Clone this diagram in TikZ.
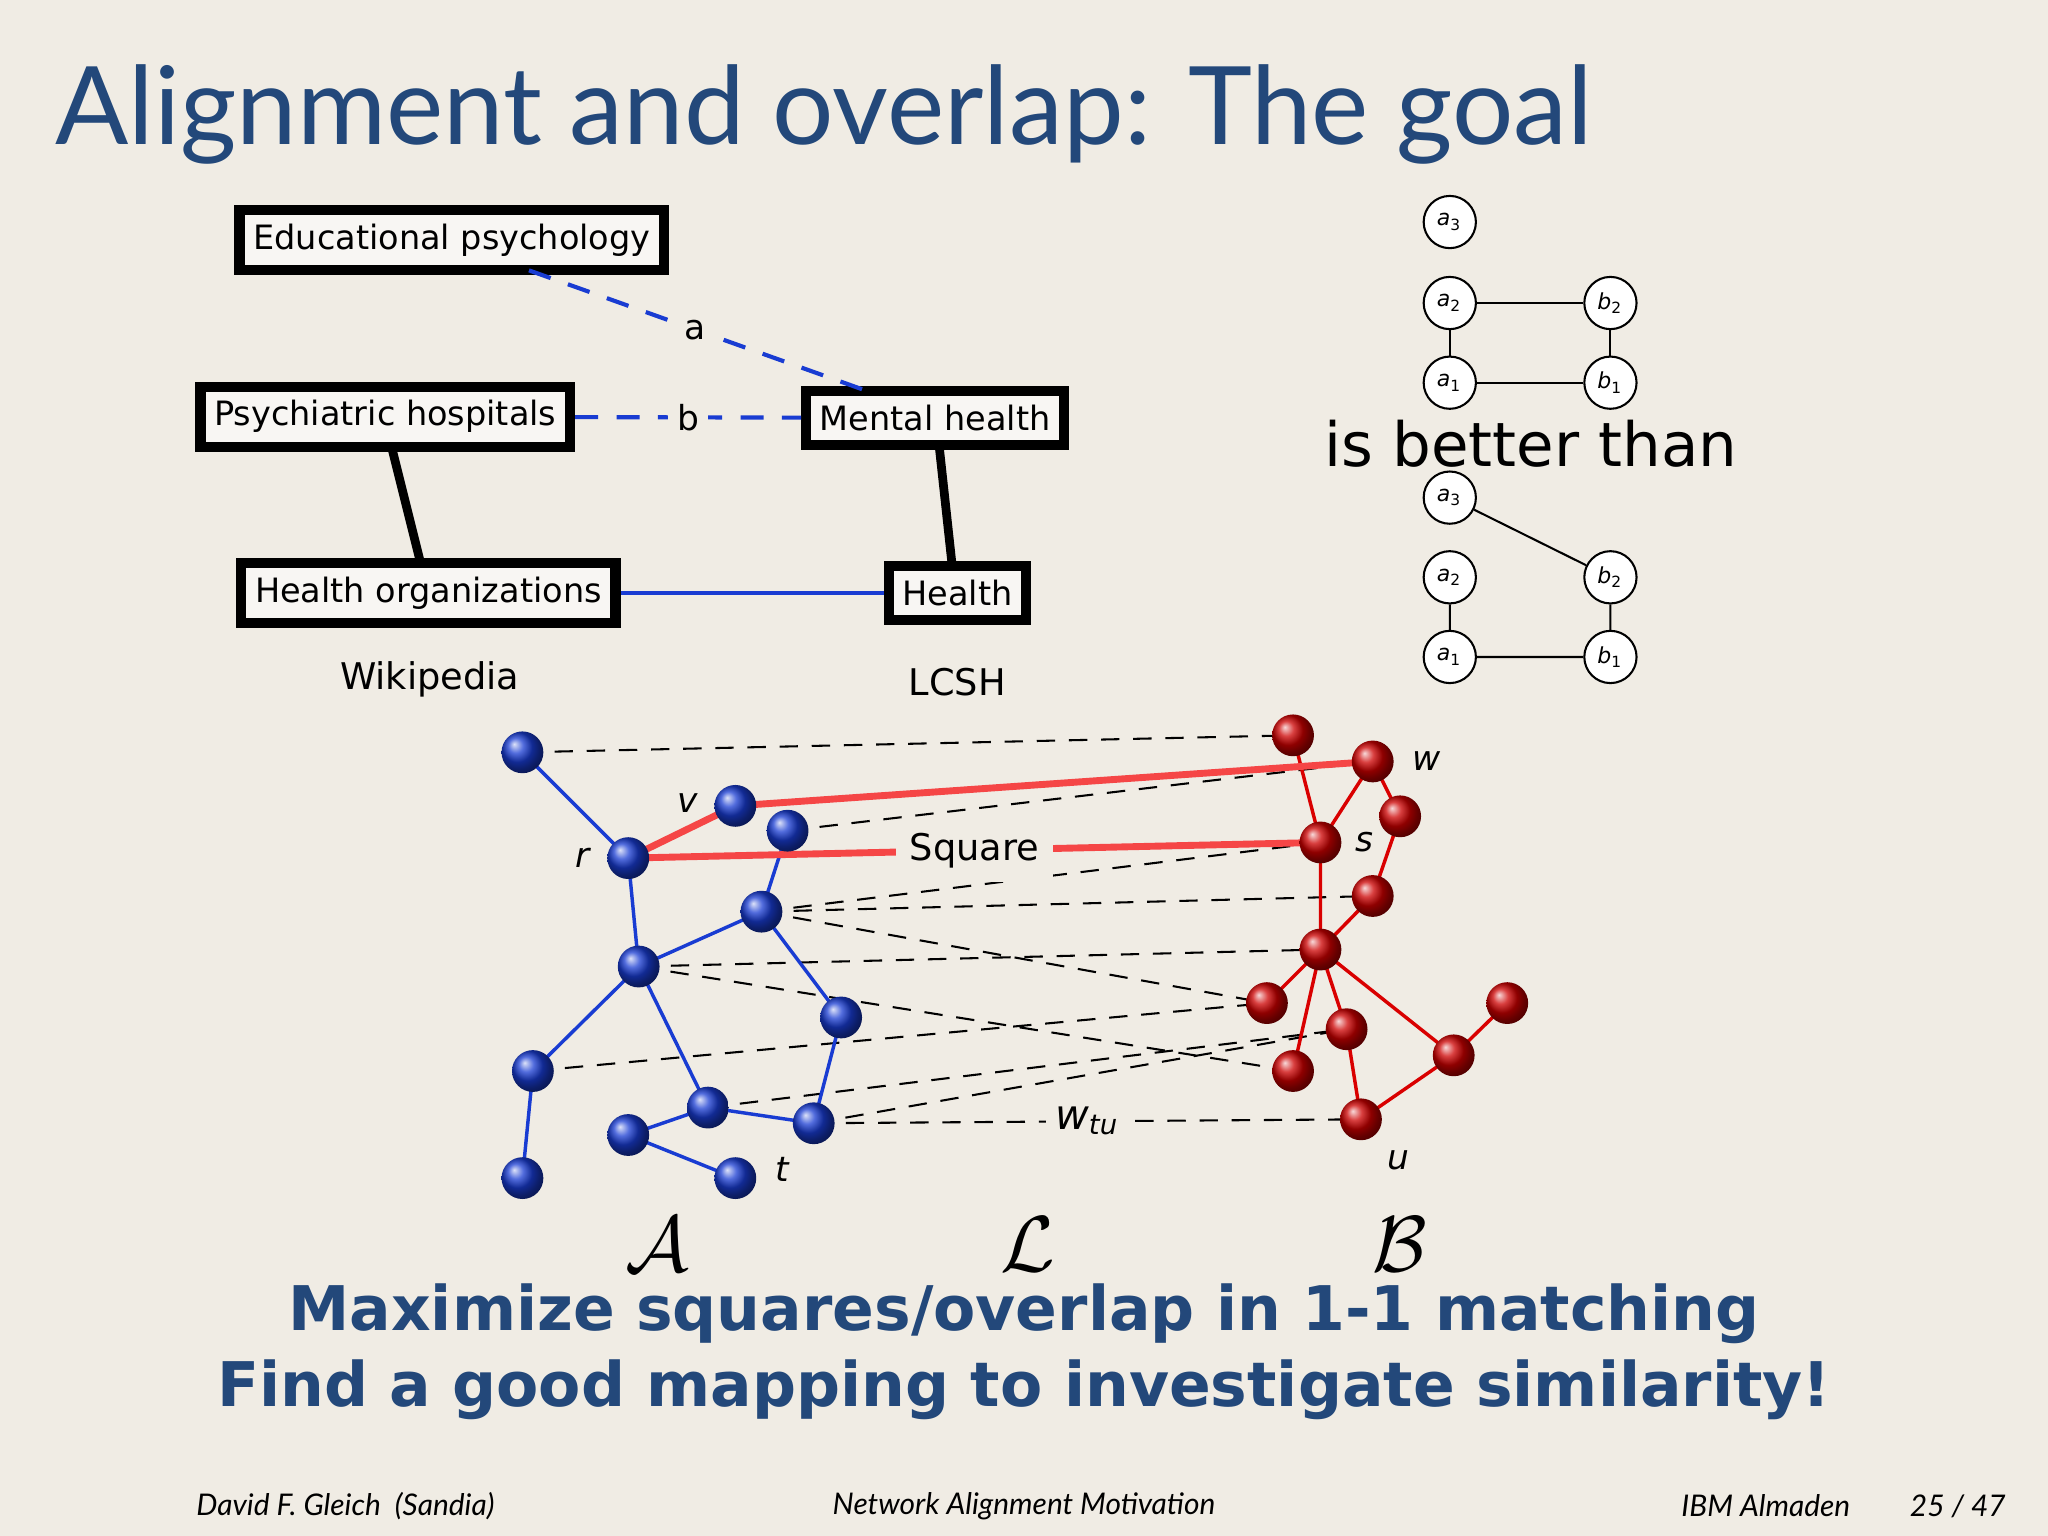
\documentclass[tikz,border=0pt]{standalone}
\usepackage{fontspec}
\setmainfont{DejaVu Sans}
\newfontfamily\titlefont{Lato}
\usetikzlibrary{shadings}
\definecolor{bg}{RGB}{240,236,228}
\definecolor{ttl}{RGB}{35,72,122}
\definecolor{redl}{RGB}{245,70,70}
\definecolor{blu}{RGB}{25,60,210}
\newcommand{\sub}[2]{\textit{#1}\textsubscript{#2}}
\begin{document}
\begin{tikzpicture}[x=0.01cm,y=-0.01cm,
  tbox/.style={draw,line width=2.2pt,fill=white!55!bg,inner sep=3pt,font=\fontsize{7.3}{8}\selectfont},
  sm/.style={draw,circle,fill=white,minimum size=40*0.01cm,inner sep=0pt,font=\fontsize{4.8}{5}\selectfont,line width=0.45pt},
  bb/.style={circle,shading=ball,ball color=blu,minimum size=32*0.01cm,inner sep=0pt},
  rb/.style={circle,shading=ball,ball color=red!80!black,minimum size=32*0.01cm,inner sep=0pt},
  bl/.style={blu,line width=0.75pt},
  rl/.style={red!85!black,line width=0.75pt},
  dl/.style={line width=0.45pt,dash pattern=on 4pt off 3pt},
  lab/.style={font=\fontsize{7.5}{8}\selectfont},
]
\fill[bg] (0,0) rectangle (1568,1176);
\useasboundingbox (0,0) rectangle (1568,1176);
\node[anchor=west,text=ttl,font=\titlefont\fontsize{23.6}{26}\selectfont] (title) at (30,88) {Alignment and overlap: The goal};

% top left
\node[tbox] (edu) at (346,184) {Educational psychology};
\node[tbox] (psy) at (295,319) {Psychiatric hospitals};
\node[tbox] (men) at (716,320) {Mental health};
\node[tbox] (hor) at (328,454) {Health organizations};
\node[tbox] (hea) at (733,454) {Health};
\node[font=\fontsize{8}{9}\selectfont] (wik) at (329,520) {Wikipedia};
\node[font=\fontsize{8}{9}\selectfont] (lcs) at (733,522) {LCSH};
\draw[blu,line width=0.9pt,dash pattern=on 5pt off 4pt] (405,207) -- node[fill=bg,inner sep=1pt,lab,text=black]{a} (660,298);
\draw[blu,line width=0.9pt,dash pattern=on 5pt off 4pt] (psy) -- node[fill=bg,inner sep=2pt,lab,text=black]{b} (men);
\draw[line width=1.9pt] (300,343) -- (322,431);
\draw[line width=1.9pt] (719,341) -- (729,433);
\draw[blu,line width=0.9pt] (hor) -- (hea);

% top right
\node[sm] (a3) at (1110,170) {\sub{a}{3}};
\node[sm] (a2) at (1110,232) {\sub{a}{2}};
\node[sm] (b2) at (1233,232) {\sub{b}{2}};
\node[sm] (a1) at (1110,293) {\sub{a}{1}};
\node[sm] (b1) at (1233,293) {\sub{b}{1}};
\draw[line width=0.45pt] (a2)--(b2) (a2)--(a1) (b2)--(b1) (a1)--(b1);
\node[font=\fontsize{13.3}{14}\selectfont] (ibt) at (1172,340) {is better than};
\node[sm] (c3) at (1110,381) {\sub{a}{3}};
\node[sm] (c2) at (1110,442) {\sub{a}{2}};
\node[sm] (d2) at (1233,442) {\sub{b}{2}};
\node[sm] (c1) at (1110,503) {\sub{a}{1}};
\node[sm] (d1) at (1233,503) {\sub{b}{1}};
\draw[line width=0.45pt] (c3)--(d2) (c2)--(c1) (d2)--(d1) (c1)--(d1);

% bottom graph coordinates
\coordinate (A1) at (400,576);
\coordinate (V) at (563,617);
\coordinate (B3) at (603,636);
\coordinate (R) at (481,657);
\coordinate (B5) at (583,698);
\coordinate (B6) at (489,740);
\coordinate (B7) at (644,779);
\coordinate (B8) at (408,820);
\coordinate (B9) at (542,848);
\coordinate (B10) at (481,869);
\coordinate (T) at (623,860);
\coordinate (B12) at (400,902);
\coordinate (B13) at (563,902);
\coordinate (R1) at (990,563);
\coordinate (W) at (1051,583);
\coordinate (R3) at (1072,625);
\coordinate (S) at (1011,645);
\coordinate (R5) at (1051,686);
\coordinate (R6) at (1011,727);
\coordinate (R7) at (970,768);
\coordinate (R8) at (1031,788);
\coordinate (R9) at (990,820);
\coordinate (R10) at (1113,808);
\coordinate (R11) at (1154,768);
\coordinate (U) at (1042,857);

% dashed alignment
\draw[dl] (A1)--(R1) (B3)--(W) (B5)--(S) (B5)--(R5) (B5)--(R7) (B6)--(R6) (B6)--(R9) (B8)--(R7) (B9)--(R8) (T)--(R8);
\draw[dl] (T) -- node[fill=bg,inner sep=2pt,font=\fontsize{9}{10}\selectfont]{\sub{w}{\textit{tu}}} (U);

% blue edges
\draw[bl] (A1)--(R) (R)--(B6) (B6)--(B5) (B5)--(B3) (B5)--(B7) (B7)--(T) (B6)--(B8) (B8)--(B12) (B6)--(B9) (B9)--(T) (B9)--(B10) (B10)--(B13);
% red edges
\draw[rl] (R1)--(S) (W)--(S) (W)--(R3) (R3)--(R5) (R5)--(R6) (S)--(R6) (R6)--(R7) (R6)--(R9) (R6)--(R8) (R6)--(R10) (R8)--(U) (U)--(R10) (R10)--(R11);
% red thick
\draw[redl,line width=1.5pt] (R)--(V) (V)--(W);
\draw[redl,line width=1.5pt] (R) -- node[fill=bg,inner sep=3pt,text=black,font=\fontsize{8}{9}\selectfont]{Square} (S);

% balls
\foreach \n in {A1,V,B3,R,B5,B6,B7,B8,B9,B10,T,B12,B13} \node[bb] (n\n) at (\n) {};
\foreach \n in {R1,W,R3,S,R5,R6,R7,R8,R9,R10,R11,U} \node[rb] (n\n) at (\n) {};

\node[lab] (lv) at (527,615) {\textit{v}};
\node[lab] (lr) at (447,657) {\textit{r}};
\node[lab] (lw) at (1092,583) {\textit{w}};
\node[lab] (ls) at (1045,645) {\textit{s}};
\node[lab] (lt) at (599,895) {\textit{t}};
\node[lab] (lu) at (1071,888) {\textit{u}};
\node[font=\fontsize{16}{17}\selectfont] (cA) at (503,953) {$\mathcal{A}$};
\node[font=\fontsize{16}{17}\selectfont] (cL) at (787,953) {$\mathcal{L}$};
\node[font=\fontsize{16}{17}\selectfont] (cB) at (1072,953) {$\mathcal{B}$};

\node[text=ttl,font=\bfseries\fontsize{13.4}{15}\selectfont] (m1) at (784,1006) {Maximize squares/overlap in 1-1 matching};
\node[text=ttl,font=\bfseries\fontsize{13.4}{15}\selectfont] (m2) at (784,1064) {Find a good mapping to investigate similarity!};

\node[anchor=west,font=\titlefont\itshape\fontsize{6.5}{7}\selectfont] (f1) at (138,1153) {David F. Gleich\ \ (Sandia)};
\node[font=\titlefont\itshape\fontsize{6.5}{7}\selectfont] (f2) at (784,1153) {Network Alignment Motivation};
\node[anchor=east,font=\titlefont\itshape\fontsize{6.5}{7}\selectfont] (f3) at (1548,1153) {IBM Almaden\qquad 25 / 47};
\end{tikzpicture}
\end{document}
